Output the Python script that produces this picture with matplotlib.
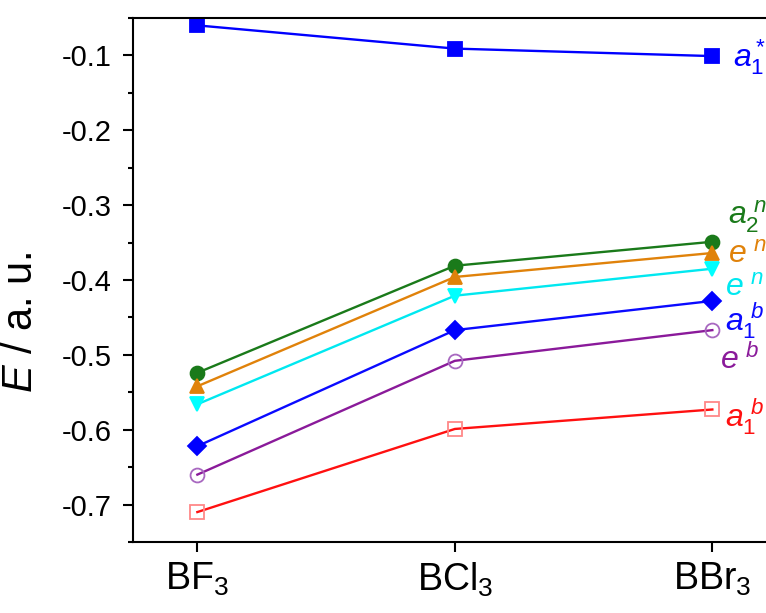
import matplotlib
matplotlib.use("Agg")
from matplotlib import pyplot as plt
from matplotlib.ticker import MultipleLocator

plt.rcParams['font.family'] = ['Liberation Sans', 'DejaVu Sans']
plt.rcParams['mathtext.fontset'] = 'custom'
plt.rcParams['mathtext.rm'] = 'Liberation Sans'
plt.rcParams['mathtext.it'] = 'Liberation Sans:italic'

molecules = ['BF$_3$', 'BCl$_3$', 'BBr$_3$']

a1_star = [-0.060, -0.091, -0.101]
a2_n = [-0.524, -0.381, -0.349]
e_n_up = [-0.542, -0.396, -0.364]
e_n_down = [-0.566, -0.421, -0.385]
a1_b = [-0.622, -0.467, -0.428]
e_b = [-0.660, -0.508, -0.467]
a1_b_low = [-0.710, -0.599, -0.573]

# values, marker, line colour, face, edge, label, label x, label y
series = [
    (a1_star, 's', '#0000ff', '#0000ff', '#0000ff', r'$a_1^*$', 2.08, -0.102),
    (a2_n, 'o', '#1a7a1a', '#1a7a1a', '#1a7a1a', r'$a_2^{\ n}$', 2.06, -0.315),
    (e_n_up, '^', '#e0820a', '#e0820a', '#e0820a', r'$e^{\ n}$', 2.06, -0.366),
    (e_n_down, 'v', '#00e8f0', '#00ffff', '#00ffff', r'$e^{\ n}$', 2.05, -0.410),
    (a1_b, 'D', '#0a0aff', '#0000ff', '#0000ff', r'$a_1^{\ b}$', 2.05, -0.454),
    (e_b, 'o', '#8a1a9a', 'none', '#a868c0', r'$e^{\ b}$', 2.03, -0.507),
    (a1_b_low, 's', '#ff1010', 'none', '#ff8888', r'$a_1^{\ b}$', 2.05, -0.583),
]

fig = plt.figure(figsize=(7.66, 6.13), dpi=100)
ax = fig.add_axes([0.1736, 0.1158, 0.8404, 0.855])

x = range(len(molecules))
for vals, mk, lc, fc, ec, lab, lx, ly in series:
    ax.plot(x, vals, color=lc, lw=1.7, marker=mk, ms=10 if mk != 'D' else 9,
            markerfacecolor=fc, markeredgecolor=ec, markeredgewidth=1.3)
    ax.text(lx, ly, lab, color=lc, fontsize=23, va='center', ha='left')

ax.set_xlim(-0.25, 2.25)
ax.set_ylim(-0.75, -0.05)
ax.set_xticks(list(x))
ax.set_xticklabels(molecules, fontsize=27)
ax.yaxis.set_minor_locator(MultipleLocator(0.05))
ax.set_yticks([-0.1, -0.2, -0.3, -0.4, -0.5, -0.6, -0.7])
ax.set_yticklabels(['-0.1', '-0.2', '-0.3', '-0.4', '-0.5', '-0.6', '-0.7'], fontsize=21)
ax.tick_params(axis='both', direction='out', length=7.5, width=1.5, top=False, right=False)
ax.tick_params(axis='y', which='minor', direction='out', length=3.8, width=1.5)
ax.tick_params(axis='y', pad=8)
ax.tick_params(axis='x', pad=6)
for s in ax.spines.values():
    s.set_linewidth(1.5)
ax.set_ylabel(r'$E$ / a. u.', fontsize=30)
ax.yaxis.set_label_coords(-0.143, 0.42)

fig.savefig('out.png', dpi=100)
